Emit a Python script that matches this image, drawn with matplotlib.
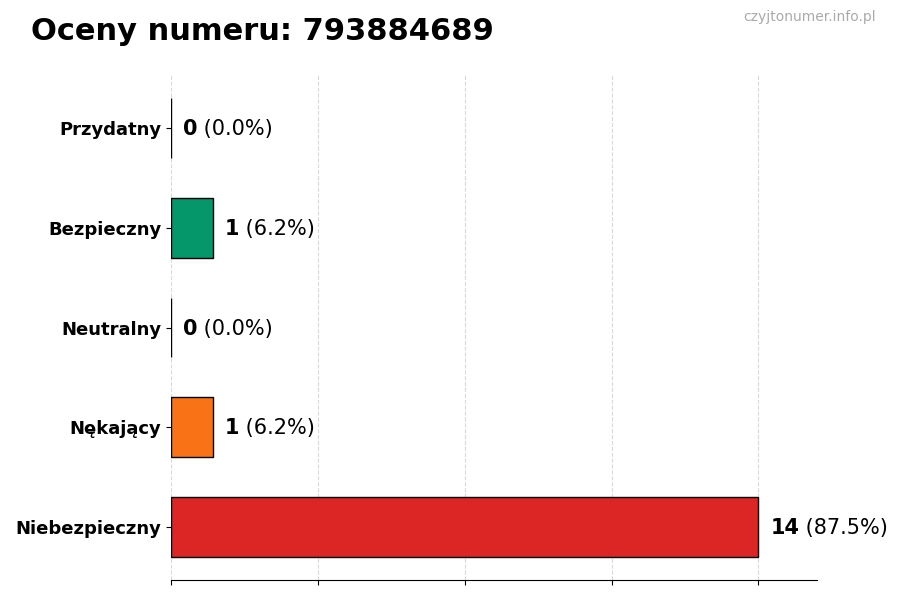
import matplotlib
matplotlib.use("Agg")
import matplotlib.pyplot as plt
import numpy as np

title = "Oceny numeru: 793884689"
watermark = "czyjtonumer.info.pl"
categories = ["Niebezpieczny", "Nękający", "Neutralny", "Bezpieczny", "Przydatny"]
counts = [14, 1, 0, 1, 0]
percents = [87.5, 6.2, 0.0, 6.2, 0.0]
colors = ["#dc2626", "#f97316", "#9ca3af", "#059669", "#3b82f6"]

fig = plt.figure(figsize=(9, 6), dpi=100)
ax = fig.add_axes([0.19, 0.0333, 0.718, 0.8417])

y = np.arange(len(categories))
ax.barh(y, counts, height=0.6, color=colors, edgecolor="black", linewidth=1, zorder=3)

mx = max(counts)
ax.set_xlim(0, mx * 1.1)
ax.set_xticks(np.linspace(0, mx, 5))
ax.set_xticklabels([])
ax.set_yticks(y)
ax.set_yticklabels(categories, fontsize=13, fontweight="bold")
ax.grid(axis="x", linestyle="--", color="#d9d9d9", linewidth=0.8, zorder=0)
for s in ["top", "right", "left"]:
    ax.spines[s].set_visible(False)

for yi, c, p in zip(y, counts, percents):
    x0 = c + 0.28
    t = ax.text(x0, yi - 0.01, f"{c}", fontsize=15, fontweight="bold", va="center", ha="left")
    ax.annotate(f" ({p:.1f}%)", xy=(1, 0.5), xycoords=t, fontsize=15,
                va="center", ha="left")

fig.text(0.034, 0.947, title, fontsize=22, fontweight="bold", va="center", ha="left")
fig.text(0.973, 0.971, watermark, fontsize=10, color="#aaaaaa", va="center", ha="right")

fig.savefig("out.png", dpi=100)
